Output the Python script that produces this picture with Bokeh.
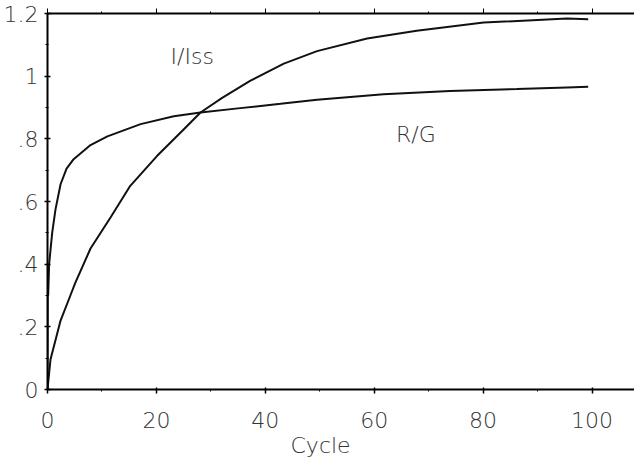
from bokeh.plotting import figure
from bokeh.models import LinearAxis, FixedTicker, Range1d, Label, Title
from bokeh.embed import file_html
from bokeh.resources import INLINE

# Data
cycle_i = [0, 0.55, 2.4, 4.2, 5.1, 7.9, 11.6, 15.2, 20.1, 25.0, 28.1, 32.0, 37.2, 43.4, 49.5,
           58.7, 67.8, 80.1, 95.4, 99.3]
i_iss = [0, 0.096, 0.22, 0.30, 0.34, 0.45, 0.55, 0.65, 0.745, 0.83, 0.884, 0.93, 0.985, 1.04, 1.08,
         1.12, 1.145, 1.171, 1.184, 1.182]
cycle_r = [0, 0.05, 0.12, 0.3, 0.86, 1.47, 2.4, 3.5, 4.8, 7.9, 11.0, 17.1, 23.2, 28.1, 35.4, 42.8,
           49.5, 61.7, 73.9, 86.2, 95.4, 99.3]
r_g = [0.0, 0.36, 0.30, 0.40, 0.50, 0.575, 0.655, 0.705, 0.735, 0.78, 0.808, 0.847, 0.872, 0.884,
       0.898, 0.912, 0.925, 0.942, 0.953, 0.959, 0.964, 0.966]

x_ticks = [0, 20, 40, 60, 80, 100]
x_minor = [10, 30, 50, 70, 90]
y_ticks = [0, 0.2, 0.4, 0.6, 0.8, 1.0, 1.2]
y_tick_labels = {0: "0", 0.2: ".2", 0.4: ".4", 0.6: ".6", 0.8: ".8", 1.0: "1", 1.2: "1.2"}
y_minor = [0.1, 0.3, 0.5, 0.7, 0.9, 1.1]

FONT = "DejaVu Sans Light, DejaVu Sans"
TXT = "#333333"
FS = "22px"

p = figure(width=634, height=457, output_backend="svg", toolbar_location=None,
           x_range=Range1d(0, 107.8), y_range=Range1d(0, 1.2),
           x_axis_location=None, y_axis_location=None,
           min_border_left=46, min_border_right=0, min_border_top=13, min_border_bottom=68)
p.grid.visible = False
p.outline_line_color = None
p.background_fill_color = "white"
p.border_fill_color = "white"

xa = LinearAxis(ticker=FixedTicker(ticks=x_ticks, minor_ticks=x_minor))
xa.major_label_text_font = FONT
xa.major_label_text_font_size = FS
xa.major_label_text_color = TXT
xa.major_label_standoff = 18
xa.major_tick_out = 4
xa.major_tick_in = 2
xa.minor_tick_out = 2
xa.minor_tick_in = 0
xa.axis_line_width = 2
xa.major_tick_line_width = 1.5
p.add_layout(xa, "below")

p.add_layout(Title(text="Cycle", align="left", offset=243, standoff=0,
                   text_font=FONT, text_font_size=FS, text_font_style="normal",
                   text_color=TXT), "below")

ya = LinearAxis(ticker=FixedTicker(ticks=y_ticks, minor_ticks=y_minor))
ya.major_label_overrides = y_tick_labels
ya.major_label_text_font = FONT
ya.major_label_text_font_size = FS
ya.major_label_text_color = TXT
ya.major_label_standoff = 6
ya.major_tick_out = 3
ya.major_tick_in = 3
ya.minor_tick_out = 2
ya.minor_tick_in = 1
ya.axis_line_width = 2
ya.major_tick_line_width = 1.5
p.add_layout(ya, "left")

ta = LinearAxis(ticker=FixedTicker(ticks=x_ticks, minor_ticks=x_minor))
ta.major_label_text_font_size = "1px"
ta.major_label_text_alpha = 0
ta.major_label_standoff = 0
ta.major_tick_out = 5
ta.major_tick_in = 0
ta.minor_tick_out = 2
ta.minor_tick_in = 0
ta.axis_line_width = 2
p.add_layout(ta, "above")

p.line(cycle_i, i_iss, line_color="#111111", line_width=2)
p.line(cycle_r, r_g, line_color="#111111", line_width=2)

for txt, x, y in [("I/Iss", 22.6, 1.064), ("R/G", 64.0, 0.815)]:
    p.add_layout(Label(x=x, y=y, text=txt, text_font=FONT, text_font_size=FS,
                       text_color=TXT, text_baseline="middle", text_align="left"))

open("out.html", "w").write(file_html(p, INLINE))
